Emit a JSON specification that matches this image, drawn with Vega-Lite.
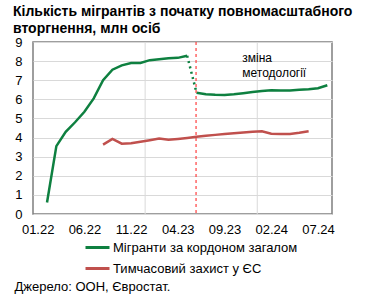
{
  "$schema": "https://vega.github.io/schema/vega-lite/v6.json",
  "width": 299,
  "height": 172,
  "autosize": {"type": "none"},
  "padding": {"left": 33, "top": 42, "right": 50, "bottom": 90},
  "config": {
    "font": "Liberation Sans",
    "view": {"stroke": "#7f7f7f", "strokeWidth": 1.5},
    "background": "white"
  },
  "title": {
    "text": ["Кількість мігрантів з початку повномасштабного", "вторгнення, млн осіб"],
    "anchor": "start",
    "frame": "group",
    "dx": -20,
    "offset": 0,
    "fontSize": 14,
    "fontWeight": "bold",
    "lineHeight": 17,
    "color": "#000000"
  },
  "datasets": {
    "lines": [
      {"m": 1, "v": 0.6, "series": "Мігранти за кордоном загалом", "seg": "a"},
      {"m": 2, "v": 3.55, "series": "Мігранти за кордоном загалом", "seg": "a"},
      {"m": 3, "v": 4.3, "series": "Мігранти за кордоном загалом", "seg": "a"},
      {"m": 4, "v": 4.8, "series": "Мігранти за кордоном загалом", "seg": "a"},
      {"m": 5, "v": 5.35, "series": "Мігранти за кордоном загалом", "seg": "a"},
      {"m": 6, "v": 6.05, "series": "Мігранти за кордоном загалом", "seg": "a"},
      {"m": 7, "v": 7.0, "series": "Мігранти за кордоном загалом", "seg": "a"},
      {"m": 8, "v": 7.55, "series": "Мігранти за кордоном загалом", "seg": "a"},
      {"m": 9, "v": 7.78, "series": "Мігранти за кордоном загалом", "seg": "a"},
      {"m": 10, "v": 7.9, "series": "Мігранти за кордоном загалом", "seg": "a"},
      {"m": 11, "v": 7.9, "series": "Мігранти за кордоном загалом", "seg": "a"},
      {"m": 12, "v": 8.05, "series": "Мігранти за кордоном загалом", "seg": "a"},
      {"m": 13, "v": 8.1, "series": "Мігранти за кордоном загалом", "seg": "a"},
      {"m": 14, "v": 8.15, "series": "Мігранти за кордоном загалом", "seg": "a"},
      {"m": 15, "v": 8.17, "series": "Мігранти за кордоном загалом", "seg": "a"},
      {"m": 16, "v": 8.28, "series": "Мігранти за кордоном загалом", "seg": "a"},
      {"m": 17, "v": 6.35, "series": "Мігранти за кордоном загалом", "seg": "b"},
      {"m": 18, "v": 6.27, "series": "Мігранти за кордоном загалом", "seg": "b"},
      {"m": 19, "v": 6.24, "series": "Мігранти за кордоном загалом", "seg": "b"},
      {"m": 20, "v": 6.23, "series": "Мігранти за кордоном загалом", "seg": "b"},
      {"m": 21, "v": 6.26, "series": "Мігранти за кордоном загалом", "seg": "b"},
      {"m": 22, "v": 6.32, "series": "Мігранти за кордоном загалом", "seg": "b"},
      {"m": 23, "v": 6.38, "series": "Мігранти за кордоном загалом", "seg": "b"},
      {"m": 24, "v": 6.44, "series": "Мігранти за кордоном загалом", "seg": "b"},
      {"m": 25, "v": 6.47, "series": "Мігранти за кордоном загалом", "seg": "b"},
      {"m": 26, "v": 6.46, "series": "Мігранти за кордоном загалом", "seg": "b"},
      {"m": 27, "v": 6.46, "series": "Мігранти за кордоном загалом", "seg": "b"},
      {"m": 28, "v": 6.5, "series": "Мігранти за кордоном загалом", "seg": "b"},
      {"m": 29, "v": 6.53, "series": "Мігранти за кордоном загалом", "seg": "b"},
      {"m": 30, "v": 6.58, "series": "Мігранти за кордоном загалом", "seg": "b"},
      {"m": 31, "v": 6.74, "series": "Мігранти за кордоном загалом", "seg": "b"},
      {"m": 7, "v": 3.63, "series": "Тимчасовий захист у ЄС", "seg": "c"},
      {"m": 8, "v": 3.93, "series": "Тимчасовий захист у ЄС", "seg": "c"},
      {"m": 9, "v": 3.68, "series": "Тимчасовий захист у ЄС", "seg": "c"},
      {"m": 10, "v": 3.7, "series": "Тимчасовий захист у ЄС", "seg": "c"},
      {"m": 11, "v": 3.78, "series": "Тимчасовий захист у ЄС", "seg": "c"},
      {"m": 12, "v": 3.86, "series": "Тимчасовий захист у ЄС", "seg": "c"},
      {"m": 13, "v": 3.95, "series": "Тимчасовий захист у ЄС", "seg": "c"},
      {"m": 14, "v": 3.89, "series": "Тимчасовий захист у ЄС", "seg": "c"},
      {"m": 15, "v": 3.93, "series": "Тимчасовий захист у ЄС", "seg": "c"},
      {"m": 16, "v": 3.98, "series": "Тимчасовий захист у ЄС", "seg": "c"},
      {"m": 17, "v": 4.04, "series": "Тимчасовий захист у ЄС", "seg": "c"},
      {"m": 18, "v": 4.09, "series": "Тимчасовий захист у ЄС", "seg": "c"},
      {"m": 19, "v": 4.14, "series": "Тимчасовий захист у ЄС", "seg": "c"},
      {"m": 20, "v": 4.19, "series": "Тимчасовий захист у ЄС", "seg": "c"},
      {"m": 21, "v": 4.23, "series": "Тимчасовий захист у ЄС", "seg": "c"},
      {"m": 22, "v": 4.27, "series": "Тимчасовий захист у ЄС", "seg": "c"},
      {"m": 23, "v": 4.31, "series": "Тимчасовий захист у ЄС", "seg": "c"},
      {"m": 24, "v": 4.33, "series": "Тимчасовий захист у ЄС", "seg": "c"},
      {"m": 25, "v": 4.2, "series": "Тимчасовий захист у ЄС", "seg": "c"},
      {"m": 26, "v": 4.18, "series": "Тимчасовий захист у ЄС", "seg": "c"},
      {"m": 27, "v": 4.19, "series": "Тимчасовий захист у ЄС", "seg": "c"},
      {"m": 28, "v": 4.25, "series": "Тимчасовий захист у ЄС", "seg": "c"},
      {"m": 29, "v": 4.33, "series": "Тимчасовий захист у ЄС", "seg": "c"}
    ],
    "dotted": [
      {"m": 16, "v": 8.28},
      {"m": 17, "v": 6.35}
    ],
    "grid": [{"g": 11.5}, {"g": 23.5}],
    "change": [{"m": 16.95}],
    "note": [{"m": 21.9, "v": 8.15, "t": "зміна\nметодології"}]
  },
  "layer": [
    {
      "data": {"name": "grid"},
      "mark": {"type": "rule", "color": "#d9d9d9", "strokeWidth": 1},
      "encoding": {
        "x": {"field": "g", "type": "quantitative", "scale": {"domain": [-0.5, 31.5], "nice": false, "zero": false}}
      }
    },
    {
      "data": {"name": "lines"},
      "mark": {"type": "line", "strokeWidth": 2.5},
      "encoding": {
        "x": {
          "field": "m", "type": "quantitative",
          "scale": {"domain": [-0.5, 31.5], "nice": false, "zero": false},
          "axis": {
            "values": [0, 5, 10, 15, 20, 25, 30],
            "labelExpr": "['01.22','06.22','11.22','04.23','09.23','02.24','07.24'][datum.value/5]",
            "grid": false, "ticks": false, "domain": false, "labelOverlap": false,
            "labelFontSize": 13, "labelColor": "#000000", "labelPadding": 9,
            "title": "Джерело: ООН, Євростат.",
            "titleAnchor": "start", "titleX": -19, "titleY": 76,
            "titleBaseline": "alphabetic", "titleFontWeight": "normal",
            "titleFontSize": 13, "titleColor": "#000000"
          }
        },
        "y": {
          "field": "v", "type": "quantitative",
          "scale": {"domain": [0, 9], "nice": false, "zero": true},
          "axis": {
            "values": [0, 1, 2, 3, 4, 5, 6, 7, 8, 9],
            "tickCount": 10,
            "title": null, "ticks": false, "domain": false, "labelOverlap": false,
            "gridColor": "#d9d9d9", "labelFontSize": 13, "labelColor": "#000000",
            "labelPadding": 11
          }
        },
        "color": {
          "field": "series", "type": "nominal",
          "scale": {"domain": ["Мігранти за кордоном загалом", "Тимчасовий захист у ЄС"], "range": ["#0e8040", "#c0504d"]},
          "legend": {
            "title": null, "orient": "none", "legendX": 51, "legendY": 192,
            "direction": "vertical", "symbolType": "stroke", "symbolSize": 576,
            "symbolStrokeWidth": 3, "labelFontSize": 13, "labelColor": "#000000",
            "labelOffset": 2, "rowPadding": -5, "labelLimit": 300
          }
        },
        "detail": {"field": "seg"}
      }
    },
    {
      "data": {"name": "dotted"},
      "mark": {"type": "line", "strokeWidth": 2.5, "color": "#0e8040", "strokeDash": [2, 3.5]},
      "encoding": {
        "x": {"field": "m", "type": "quantitative"},
        "y": {
          "field": "v", "type": "quantitative",
          "axis": {
            "values": [0, 1, 2, 3, 4, 5, 6, 7, 8, 9],
            "tickCount": 10,
            "title": null, "ticks": false, "domain": false, "labelOverlap": false,
            "gridColor": "#d9d9d9", "labelFontSize": 13, "labelColor": "#000000",
            "labelPadding": 11
          }
        }
      }
    },
    {
      "data": {"name": "change"},
      "mark": {"type": "rule", "color": "#ff4040", "strokeWidth": 1.2, "strokeDash": [3, 3]},
      "encoding": {
        "x": {"field": "m", "type": "quantitative"}
      }
    },
    {
      "data": {"name": "note"},
      "mark": {"type": "text", "align": "left", "baseline": "middle", "fontSize": 12, "lineBreak": "\n", "lineHeight": 14.5, "color": "#000000"},
      "encoding": {
        "x": {"field": "m", "type": "quantitative"},
        "y": {
          "field": "v", "type": "quantitative",
          "axis": {
            "values": [0, 1, 2, 3, 4, 5, 6, 7, 8, 9],
            "tickCount": 10,
            "title": null, "ticks": false, "domain": false, "labelOverlap": false,
            "gridColor": "#d9d9d9", "labelFontSize": 13, "labelColor": "#000000",
            "labelPadding": 11
          }
        },
        "text": {"field": "t"}
      }
    }
  ]
}
